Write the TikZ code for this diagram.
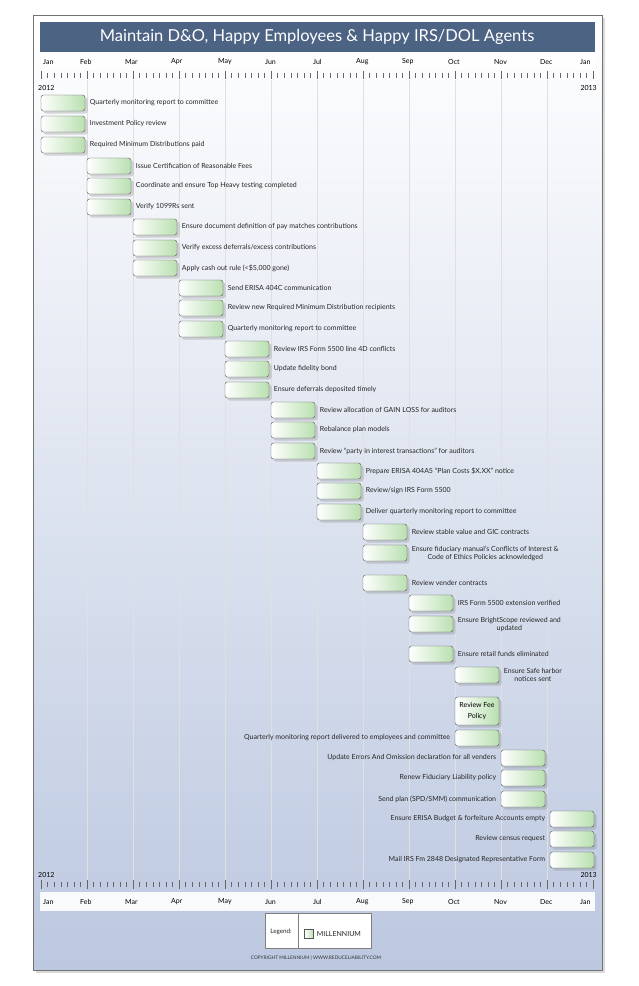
\documentclass[tikz,border=0pt]{standalone}
\usepackage{fontspec}
\setmainfont{Lato}
\usetikzlibrary{positioning,shadows}
\definecolor{titleblue}{HTML}{4D6384}
\definecolor{paleblue}{HTML}{BCC8E0}
\definecolor{barline}{HTML}{555555}
\definecolor{bargreen}{HTML}{B9E0B0}
\tikzset{
  bar/.style={draw=barline,rounded corners=2.5pt,minimum width=44pt,minimum height=16pt,
    left color=white,right color=bargreen,drop shadow={opacity=0.3},inner sep=0pt},
  lbl/.style={font=\fontsize{7}{8.2}\selectfont,inner sep=1pt,text=black!85},
  month/.style={font=\fontsize{7}{8}\selectfont,anchor=west,inner sep=0pt},
  grid/.style={draw=black!12,line width=0.4pt}
}
\begin{document}
\begin{tikzpicture}[x=1pt,y=-1pt]
\useasboundingbox (0,0) rectangle (638,986);
% frame and background
\shade[top color=white,bottom color=paleblue,draw=black!55,drop shadow={opacity=0.3}] (33,15) rectangle (602,970);
\fill[titleblue] (40,22) rectangle (595,52);
\node[text=white,font=\fontsize{16.5}{18}\selectfont] (title) at (317,37) {Maintain D\&O, Happy Employees \& Happy IRS/DOL Agents};
\fill[white,opacity=0.8] (40,54) rectangle (595,70);
\fill[white,opacity=0.9] (40,892) rectangle (595,911);
% grid lines
\foreach \m in {1,...,11} \draw[grid] (41+46*\m,80) -- (41+46*\m,880);
% ticks
\foreach \m in {0,...,11} {
  \draw[black!60] (41+46*\m,71) -- (41+46*\m,79);
  \draw[black!60] (41+46*\m,880) -- (41+46*\m,889);
  \foreach \k in {1,...,6} {
    \draw[black!60] (41+46*\m+6.57*\k,73) -- (41+46*\m+6.57*\k,78);
    \draw[black!60] (41+46*\m+6.57*\k,882) -- (41+46*\m+6.57*\k,887);
  }
}
\draw[black!60] (593,71) -- (593,79);
\draw[black!60] (593,880) -- (593,889);
% month labels
\node[month] (m0) at (43,62) {Jan};
\node[month] (m1) at (80,62) {Feb};
\node[month] (m2) at (125,62) {Mar};
\node[month] (m3) at (171,62) {Apr};
\node[month] (m4) at (218,62) {May};
\node[month] (m5) at (265,62) {Jun};
\node[month] (m6) at (313,62) {Jul};
\node[month] (m7) at (356,62) {Aug};
\node[month] (m8) at (402,62) {Sep};
\node[month] (m9) at (448,62) {Oct};
\node[month] (m10) at (494,62) {Nov};
\node[month] (m11) at (540,62) {Dec};
\node[month] (m12) at (580,62) {Jan};
\node[month] (n0) at (43,902) {Jan};
\node[month] (n1) at (80,902) {Feb};
\node[month] (n2) at (125,902) {Mar};
\node[month] (n3) at (171,902) {Apr};
\node[month] (n4) at (218,902) {May};
\node[month] (n5) at (265,902) {Jun};
\node[month] (n6) at (313,902) {Jul};
\node[month] (n7) at (356,902) {Aug};
\node[month] (n8) at (402,902) {Sep};
\node[month] (n9) at (448,902) {Oct};
\node[month] (n10) at (494,902) {Nov};
\node[month] (n11) at (540,902) {Dec};
\node[month] (n12) at (580,902) {Jan};
\node[month] (y1) at (38,88) {2012};
\node[month,anchor=east] (y2) at (597,88) {2013};
\node[month] (y3) at (38,875) {2012};
\node[month,anchor=east] (y4) at (597,875) {2013};
% tasks
\node[bar] (b1) at (63,103) {};
\node[lbl,right=3.5pt of b1] (t1) {Quarterly monitoring report to committee};
\node[bar] (b2) at (63,124) {};
\node[lbl,right=3.5pt of b2] (t2) {Investment Policy review};
\node[bar] (b3) at (63,145) {};
\node[lbl,right=3.5pt of b3] (t3) {Required Minimum Distributions paid};
\node[bar] (b4) at (109,166) {};
\node[lbl,right=3.5pt of b4] (t4) {Issue Certification of Reasonable Fees};
\node[bar] (b5) at (109,186) {};
\node[lbl,right=3.5pt of b5] (t5) {Coordinate and ensure Top Heavy testing completed};
\node[bar] (b6) at (109,207) {};
\node[lbl,right=3.5pt of b6] (t6) {Verify 1099Rs sent};
\node[bar] (b7) at (155,227) {};
\node[lbl,right=3.5pt of b7] (t7) {Ensure document definition of pay matches contributions};
\node[bar] (b8) at (155,248) {};
\node[lbl,right=3.5pt of b8] (t8) {Verify excess deferrals/excess contributions};
\node[bar] (b9) at (155,268) {};
\node[lbl,right=3.5pt of b9] (t9) {Apply cash out rule (<\$5,000 gone)};
\node[bar] (b10) at (201,288) {};
\node[lbl,right=3.5pt of b10] (t10) {Send ERISA 404C communication};
\node[bar] (b11) at (201,308) {};
\node[lbl,right=3.5pt of b11] (t11) {Review new Required Minimum Distribution recipients};
\node[bar] (b12) at (201,329) {};
\node[lbl,right=3.5pt of b12] (t12) {Quarterly monitoring report to committee};
\node[bar] (b13) at (247,349) {};
\node[lbl,right=3.5pt of b13] (t13) {Review IRS Form 5500 line 4D conflicts};
\node[bar] (b14) at (247,369) {};
\node[lbl,right=3.5pt of b14] (t14) {Update fidelity bond};
\node[bar] (b15) at (247,390) {};
\node[lbl,right=3.5pt of b15] (t15) {Ensure deferrals deposited timely};
\node[bar] (b16) at (293,410) {};
\node[lbl,right=3.5pt of b16] (t16) {Review allocation of GAIN LOSS for auditors};
\node[bar] (b17) at (293,430) {};
\node[lbl,right=3.5pt of b17] (t17) {Rebalance plan models};
\node[bar] (b18) at (293,451) {};
\node[lbl,right=3.5pt of b18] (t18) {Review ``party in interest transactions'' for auditors};
\node[bar] (b19) at (339,471) {};
\node[lbl,right=3.5pt of b19] (t19) {Prepare ERISA 404A5 ``Plan Costs \$X.XX'' notice};
\node[bar] (b20) at (339,491) {};
\node[lbl,right=3.5pt of b20] (t20) {Review/sign IRS Form 5500};
\node[bar] (b21) at (339,512) {};
\node[lbl,right=3.5pt of b21] (t21) {Deliver quarterly monitoring report to committee};
\node[bar] (b22) at (385,532) {};
\node[lbl,right=3.5pt of b22] (t22) {Review stable value and GIC contracts};
\node[bar] (b23) at (385,553) {};
\node[lbl,anchor=north west,align=center] (t23) at ([xshift=3.5pt]b23.north east) {Ensure fiduciary manual's Conflicts of Interest \&\\Code of Ethics Policies acknowledged};
\node[bar] (b24) at (385,583) {};
\node[lbl,right=3.5pt of b24] (t24) {Review vender contracts};
\node[bar] (b25) at (431,603) {};
\node[lbl,right=3.5pt of b25] (t25) {IRS Form 5500 extension verified};
\node[bar] (b26) at (431,624) {};
\node[lbl,anchor=north west,align=center] (t26) at ([xshift=3.5pt]b26.north east) {Ensure BrightScope reviewed and\\updated};
\node[bar] (b27) at (431,654) {};
\node[lbl,right=3.5pt of b27] (t27) {Ensure retail funds eliminated};
\node[bar] (b28) at (477,675) {};
\node[lbl,anchor=north west,align=center] (t28) at ([xshift=3.5pt]b28.north east) {Ensure Safe harbor\\notices sent};
\node[bar,minimum height=28pt,align=center,font=\fontsize{7}{11}\selectfont] (b29) at (477,711) {Review Fee\\Policy};
\node[bar] (b30) at (477,738) {};
\node[lbl,left=3.5pt of b30] (t30) {Quarterly monitoring report delivered to employees and committee};
\node[bar] (b31) at (523,758) {};
\node[lbl,left=3.5pt of b31] (t31) {Update Errors And Omission declaration for all venders};
\node[bar] (b32) at (523,778) {};
\node[lbl,left=3.5pt of b32] (t32) {Renew Fiduciary Liability policy};
\node[bar] (b33) at (523,799) {};
\node[lbl,left=3.5pt of b33] (t33) {Send plan (SPD/SMM) communication};
\node[bar] (b34) at (572,819) {};
\node[lbl,left=3.5pt of b34] (t34) {Ensure ERISA Budget \& forfeiture Accounts empty};
\node[bar] (b35) at (572,839) {};
\node[lbl,left=3.5pt of b35] (t35) {Review census request};
\node[bar] (b36) at (572,860) {};
\node[lbl,left=3.5pt of b36] (t36) {Mail IRS Fm 2848 Designated Representative Form};
% legend
\draw[black!50,fill=white] (265,913) rectangle (371,948);
\draw[black!50] (298,913) -- (298,948);
\node[lbl,font=\fontsize{6.3}{7}\selectfont] (lg) at (281,932) {Legend:};
\node[draw=barline,left color=white,right color=bargreen,minimum size=9pt,inner sep=0pt] (lgbox) at (309,934) {};
\node[lbl,right=2pt of lgbox] (lgtxt) {MILLENNIUM};
\node[font=\fontsize{4.8}{6}\selectfont,text=black!80] (copy) at (316,958) {COPYRIGHT MILLENNIUM | WWW.REDUCELIABILITY.COM};
\end{tikzpicture}
\end{document}
